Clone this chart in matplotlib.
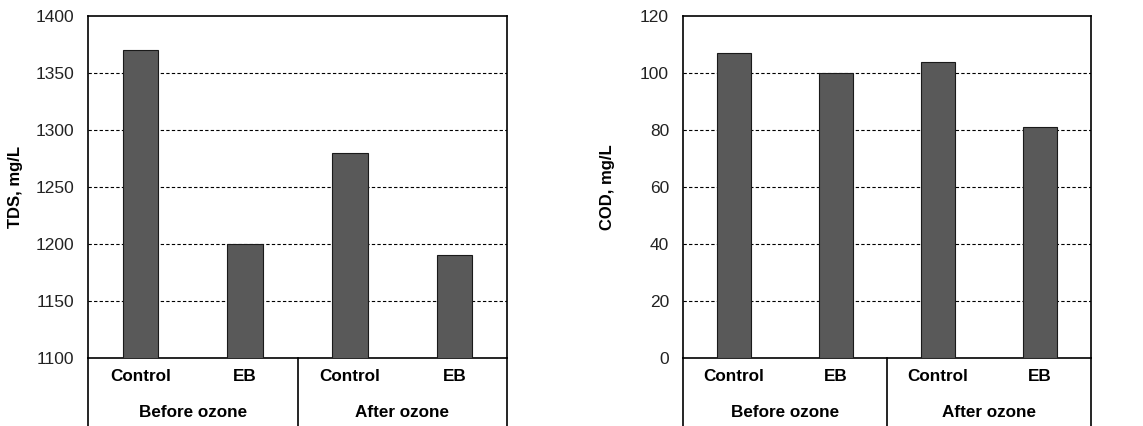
import numpy as np
import matplotlib
matplotlib.use("Agg")
from matplotlib import pyplot as plt
from matplotlib.lines import Line2D

plt.rcParams['font.family'] = ['Liberation Sans', 'DejaVu Sans']

categories = ["Control", "EB", "Control", "EB"]
groups = ["Before ozone", "After ozone"]
tds_values = [1370, 1200, 1280, 1190]
cod_values = [107, 100, 104, 81]

tds_ticks = [1100, 1150, 1200, 1250, 1300, 1350, 1400]
cod_ticks = [0, 20, 40, 60, 80, 100, 120]

fig = plt.figure(figsize=(11.43, 4.26), dpi=100)
W, H = 1143.0, 426.0
ax1 = fig.add_axes([88 / W, 1 - 358 / H, 419 / W, 342 / H])
ax2 = fig.add_axes([683 / W, 1 - 358 / H, 408 / W, 342 / H])


def draw_panel(ax, values, ticks, ylabel, label_x):
    x = np.arange(len(values))
    ax.bar(x, values, width=0.34, color='#595959', edgecolor='#1a1a1a',
           linewidth=0.8, zorder=3)
    ax.set_xlim(-0.5, len(values) - 0.5)
    ax.set_ylim(ticks[0], ticks[-1])
    ax.set_yticks(ticks)
    ax.set_yticklabels([str(t) for t in ticks], fontsize=12.5, color='#222222')
    ax.tick_params(axis='y', length=0, pad=10)
    ax.set_xticks([])
    # dashed grid lines, not on the bottom/top edge
    for t in ticks[1:-1]:
        ax.axhline(t, color='black', linestyle=(0, (3, 2)), linewidth=0.8, zorder=1)
    for s in ax.spines.values():
        s.set_linewidth(1.2)
    ax.set_ylabel(ylabel, fontsize=12, fontweight='bold')
    ax.yaxis.set_label_coords(label_x, 0.5)

    # category table under the axis
    n = len(values)
    for xv in [-0.5, 1.5, n - 0.5]:
        ax.add_line(Line2D([xv, xv], [0, -0.3], color='black', linewidth=1.2,
                           transform=ax.get_xaxis_transform(), clip_on=False))
    for i, c in enumerate(categories):
        ax.text(i, -0.055, c, transform=ax.get_xaxis_transform(), ha='center',
                va='center', fontsize=12.3, fontweight='bold')
    for j, g in enumerate(groups):
        ax.text(2 * j + 0.5, -0.16, g, transform=ax.get_xaxis_transform(),
                ha='center', va='center', fontsize=12.3, fontweight='bold')


draw_panel(ax1, tds_values, tds_ticks, "TDS, mg/L", -0.155)
draw_panel(ax2, cod_values, cod_ticks, "COD, mg/L", -0.167)

fig.savefig("out.png", dpi=100)
